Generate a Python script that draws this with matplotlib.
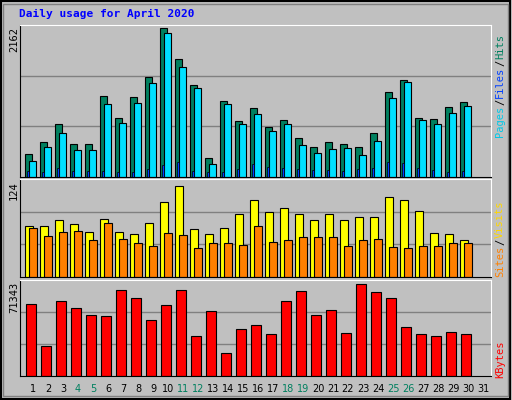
import numpy as np
import matplotlib.pyplot as plt

days = np.arange(1, 32)
hits = [338, 515, 765, 485, 485, 1177, 853, 1162, 1456, 2162, 1706, 1338, 279, 1103, 809,
        1000, 721, 824, 559, 441, 515, 485, 441, 632, 1235, 1412, 853, 838, 1015, 1088]
files = [235, 441, 632, 397, 397, 1059, 779, 1074, 1368, 2088, 1603, 1294, 191, 1059, 765,
         912, 662, 765, 471, 353, 412, 426, 324, 529, 1147, 1382, 824, 765, 927, 1029]
pages = [93, 74, 132, 93, 93, 93, 74, 74, 118, 176, 221, 93, 74, 74, 118,
         191, 147, 132, 118, 103, 103, 93, 118, 132, 221, 206, 132, 103, 74, 93]
visits = [70, 70, 78, 73, 62, 79, 62, 59, 74, 102, 124, 66, 59, 67, 86,
          105, 89, 94, 86, 78, 86, 78, 82, 82, 109, 105, 90, 60, 59, 51]
sites = [67, 56, 62, 63, 50, 74, 52, 47, 43, 60, 58, 39, 47, 47, 44,
         70, 48, 50, 55, 55, 55, 43, 51, 52, 41, 40, 43, 43, 46, 47]
kbytes = [55660, 23520, 58010, 52520, 47040, 46250, 66630, 60360, 43120, 54880, 66630, 31360,
          50170, 18030, 36840, 39200, 32930, 58010, 65850, 47040, 50960, 33710, 71343, 65070,
          60360, 37630, 32930, 31360, 34490, 32930]
weekends = [4, 5, 11, 12, 18, 19, 25, 26]

mono = 'DejaVu Sans Mono'
bg = '#C0C0C0'
fig = plt.figure(figsize=(5.12, 4.0), dpi=100, facecolor=bg)
# outer frame
fig.patches.append(plt.Rectangle((0.002, 0.003), 0.994, 0.994, transform=fig.transFigure,
                                 fill=False, edgecolor='black', lw=1.5))
fig.patches.append(plt.Rectangle((0.006, 0.01), 0.986, 0.98, transform=fig.transFigure,
                                 fill=False, edgecolor='#808080', lw=1))

L, W = 20 / 512, 471 / 512
def panel(top_px, bot_px):
    ax = fig.add_axes([L, 1 - bot_px / 400, W, (bot_px - top_px) / 400], facecolor=bg)
    ax.set_xlim(0, 31.4)
    ax.set_xticks([]); ax.set_yticks([])
    for s in ax.spines.values():
        s.set_color('black')
    ax.spines['top'].set_color('white'); ax.spines['right'].set_color('white')
    return ax

def grid(ax, top):
    for f in (1 / 3, 2 / 3):
        ax.axhline(top * f, color='#808080', lw=1, zorder=0)

x0 = days[:30] - 1

ax1 = panel(25, 177)
top1 = 2162 * 150 / 147
ax1.set_ylim(0, top1); grid(ax1, top1)
ax1.bar(x0 + 0.33, hits, 0.47, align='edge', color='#00805F', edgecolor='black', lw=0.8)
ax1.bar(x0 + 0.6, files, 0.47, align='edge', color='#00E0FF', edgecolor='black', lw=0.8)
ax1.bar(x0 + 0.46, pages, 0.13, align='edge', color='#0040FF', edgecolor='black', lw=0.5)

ax2 = panel(179, 277)
top2 = 124 * 99 / 91.7
ax2.set_ylim(0, top2); grid(ax2, top2)
ax2.bar(x0 + 0.33, visits, 0.55, align='edge', color='#FFFF00', edgecolor='black', lw=0.8)
ax2.bar(x0 + 0.62, sites, 0.5, align='edge', color='#FF8000', edgecolor='black', lw=0.8)

ax3 = panel(280, 376)
top3 = 71343 * 95 / 91
ax3.set_ylim(0, top3); grid(ax3, top3)
ax3.bar(x0 + 0.42, kbytes, 0.64, align='edge', color='#FF0000', edgecolor='black', lw=0.8)

fig.text(19 / 512, 1 - 14 / 400, 'Daily usage for April 2020', color='#0000FF',
         family=mono, weight='bold', fontsize=8, va='center')
for y_px, lab in [(27, '2162'), (181, '124'), (282, '71343')]:
    fig.text(14 / 512, 1 - y_px / 400, lab, rotation=90, ha='center', va='top',
             family=mono, fontsize=7.5)

def side(parts, bot_px):
    y = bot_px
    for txt, col in parts:
        t = fig.text(500 / 512, 1 - y / 400, txt, rotation=90, ha='center', va='bottom',
                     color=col, family=mono, fontsize=7.5)
        y -= len(txt) * 6.2 + 1

side([('Pages', '#00C8E8'), ('/', '#000000'), ('Files', '#0040FF'), ('/', '#000000'),
      ('Hits', '#00805F')], 137)
side([('Sites', '#FF8000'), ('/', '#000000'), ('Visits', '#FFD700')], 277)
side([('KBytes', '#FF0000')], 378)

for d in days:
    fig.text((20 + (d - 1) * 15 + 13) / 512, 1 - 389 / 400, str(d), ha='center', va='center',
             fontsize=7, color='#00805F' if d in weekends else 'black')

fig.savefig('out.png', dpi=100, facecolor=bg)
